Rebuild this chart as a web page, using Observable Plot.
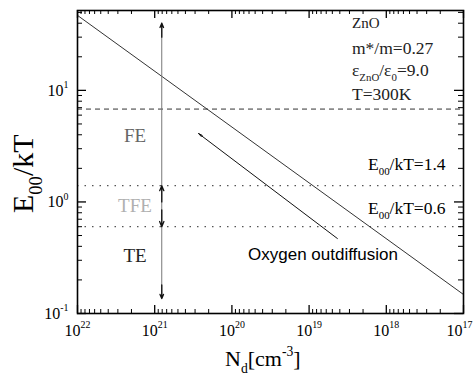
<!DOCTYPE html>
<html><head><meta charset="utf-8">
<script src="https://cdn.jsdelivr.net/npm/d3@7"></script>
<script src="https://cdn.jsdelivr.net/npm/@observablehq/plot@0.6"></script>
<style>
html,body{margin:0;padding:0;background:#fff;}
#chart{width:474px;height:375px;}
</style></head>
<body><div id="chart"></div>
<script>
// ---- data ----
const ndValues = [1e22, 1e17];           // N_d [cm^-3]
const e00Values = [47, 0.148];           // E00/kT
const oxyNd = [4.3e18, 2.7e20];          // oxygen outdiffusion arrow (tail -> head)
const oxyE00 = [0.47, 4.1];
const levelDashed = [6.8];               // FE upper boundary
const levelDotted = [1.4, 0.6];          // TFE limits
const regionNames = ["FE", "TFE", "TE"];
const regionE00 = [3.9, 0.92, 0.33];
const regionNd = [1.8e21, 1.8e21, 1.8e21];
const regionColors = ["#666", "#b0b0b0", "#222"];
const arrowNd = 8.1e20;
const arrowSpan = [40, 0.136];
const arrowTails = [30, 1.0, 0.85, 0.18];
const arrowHeads = [40, 1.4, 0.6, 0.136];
const xTickValues = [1e22, 1e21, 1e20, 1e19, 1e18, 1e17];
const xTickLabels = ["10^{22}", "10^{21}", "10^{20}", "10^{19}", "10^{18}", "10^{17}"];
const yTickValues = [0.1, 1, 10];
const yTickLabels = ["10^{-1}", "10^{0}", "10^{1}"];
const paramLines = ["ZnO", "m*/m=0.27", "ε_{ZnO}/ε_{0}=9.0", "T=300K"];
const levelLabels = ["E_{00}/kT=1.4", "E_{00}/kT=0.6"];
const oxyLabel = "Oxygen outdiffusion";
const xLabel = "N_{d}[cm^{-3}]";
const yLabel = "E_{00}/kT";

const xMinor = [];
for (let d = 17; d < 22; d++) for (let k = 2; k <= 9; k++) xMinor.push(k * 10 ** d);
const yMinor = [];
for (let d = -1; d <= 1; d++) for (let k = 2; k <= 9; k++) { const v = k * 10 ** d; if (v <= 52) yMinor.push(v); }

const serif = "'Liberation Serif', 'Times New Roman', serif";
const sans = "'Liberation Sans', Arial, sans-serif";
const W = 474, H = 375, mL = 77, mR = 11, mT = 10, mB = 62;
const iw = W - mL - mR, ih = H - mT - mB;

const line = ndValues.map((n, i) => ({n, e: e00Values[i]}));
const oxy = [{x1: oxyNd[0], y1: oxyE00[0], x2: oxyNd[1], y2: oxyE00[1]}];
const regions = regionNames.map((name, i) => ({name, n: regionNd[i], e: regionE00[i], c: regionColors[i]}));
const vArrows = arrowTails.map((t, i) => ({x: arrowNd, y1: t, y2: arrowHeads[i]}));

const chart = Plot.plot({
  width: W, height: H,
  marginLeft: mL, marginRight: mR, marginTop: mT, marginBottom: mB,
  style: {background: "#fff", fontFamily: serif, overflow: "visible"},
  x: {type: "log", domain: [1e22, 1e17], axis: null},
  y: {type: "log", domain: [0.1, 52], axis: null},
  marks: [
    Plot.ruleY(levelDashed, {stroke: "#333", strokeWidth: 1, strokeDasharray: "5,4"}),
    Plot.ruleY(levelDotted, {stroke: "#555", strokeWidth: 1.2, strokeDasharray: "1.5,6"}),
    Plot.line(line, {x: "n", y: "e", stroke: "#333", strokeWidth: 1}),
    Plot.arrow(oxy, {x1: "x1", y1: "y1", x2: "x2", y2: "y2", stroke: "#111", strokeWidth: 1, headLength: 6, headAngle: 22}),
    Plot.ruleX([arrowNd], {y1: arrowSpan[0], y2: arrowSpan[1], stroke: "#777", strokeWidth: 1}),
    Plot.arrow(vArrows, {x1: "x", x2: "x", y1: "y1", y2: "y2", stroke: "#111", strokeWidth: 1.3, headLength: 7, headAngle: 45}),
    Plot.text(regions, {x: "n", y: "e", text: "name", fill: "c", fontSize: 19}),
    Plot.tickX(xMinor, {x: d => d, insetTop: ih - 4, stroke: "#000"}),
    Plot.tickX(xMinor, {x: d => d, insetBottom: ih - 4, stroke: "#000"}),
    Plot.tickX(xTickValues, {x: d => d, insetTop: ih - 8, stroke: "#000", strokeWidth: 1.3}),
    Plot.tickX(xTickValues, {x: d => d, insetBottom: ih - 8, stroke: "#000", strokeWidth: 1.3}),
    Plot.tickY(yMinor, {y: d => d, insetRight: iw - 5, stroke: "#000"}),
    Plot.tickY(yMinor, {y: d => d, insetLeft: iw - 5, stroke: "#000"}),
    Plot.tickY(yTickValues, {y: d => d, insetRight: iw - 9, stroke: "#000", strokeWidth: 1.3}),
    Plot.tickY(yTickValues, {y: d => d, insetLeft: iw - 9, stroke: "#000", strokeWidth: 1.3}),
    Plot.frame({stroke: "#000", strokeWidth: 1.6}),
    Plot.text(xTickValues, {x: d => d, text: (d, i) => xTickLabels[i], frameAnchor: "bottom", dy: 22,
      lineAnchor: "bottom", textAnchor: "middle", fontSize: 16, fill: "#000"}),
    Plot.text(yTickValues, {y: d => d, text: (d, i) => yTickLabels[i], frameAnchor: "left", dx: -9,
      lineAnchor: "middle", textAnchor: "end", fontSize: 16, fill: "#000"})
  ]
});

const NS = "http://www.w3.org/2000/svg";
function rich(t) {
  const s = t.textContent;
  if (!/[\^_]\{/.test(s)) return;
  while (t.firstChild) t.removeChild(t.firstChild);
  const re = /([\^_])\{([^}]*)\}/g;
  let last = 0, m, cur = 0;
  const add = (txt, attrs) => {
    const ts = document.createElementNS(NS, "tspan");
    ts.textContent = txt;
    for (const k in attrs) ts.setAttribute(k, attrs[k]);
    t.appendChild(ts);
  };
  while ((m = re.exec(s))) {
    if (m.index > last) { add(s.slice(last, m.index), cur ? {dy: (-cur) + "em"} : {}); cur = 0; }
    const target = m[1] === "^" ? -0.45 : 0.3;
    add(m[2], {"font-size": "62%", dy: ((target - cur) / 0.62).toFixed(3) + "em"});
    cur = target;
    last = re.lastIndex;
  }
  if (last < s.length) add(s.slice(last), cur ? {dy: (-cur) + "em"} : {});
}

const svg = chart.tagName.toLowerCase() === "svg" ? chart : chart.querySelector("svg");
svg.querySelectorAll("text").forEach(t => { t.style.fontFamily = serif; });
svg.querySelectorAll("text").forEach(t => {
  if (t.textContent === xTickLabels[xTickLabels.length - 1]) {
    const tr = t.getAttribute("transform") || "";
    t.setAttribute("transform", tr + " translate(-4,0)");
  }
});

function addText(str, x, y, opts = {}) {
  const t = document.createElementNS(NS, "text");
  t.setAttribute("x", x); t.setAttribute("y", y);
  t.style.fontFamily = opts.family || serif;
  t.setAttribute("font-size", opts.size || 18);
  t.setAttribute("fill", opts.fill || "#000");
  t.setAttribute("text-anchor", opts.anchor || "start");
  if (opts.rotate) t.setAttribute("transform", `rotate(${opts.rotate},${x},${y})`);
  t.textContent = str;
  svg.appendChild(t);
  return t;
}
const ys = chart.scale("y");
const paramBaselines = [28, 54, 76, 100];
const paramSizes = [15, 17.5, 17.5, 17.5];
paramLines.forEach((s, i) => addText(s, 352, paramBaselines[i], {size: paramSizes[i], fill: "#222"}));
addText(levelLabels[0], 368, ys.apply(levelDotted[0]) - 15, {size: 17.5});
addText(levelLabels[1], 368, ys.apply(levelDotted[1]) - 12, {size: 17.5});
addText(oxyLabel, 248, ys.apply(oxyE00[0]) + 22, {size: 17, family: sans});
addText(yLabel, 33, 213, {size: 30, rotate: -90});
addText(xLabel, 225, 366, {size: 22});

svg.querySelectorAll("text").forEach(rich);
document.getElementById("chart").appendChild(chart);
</script>
</body></html>
